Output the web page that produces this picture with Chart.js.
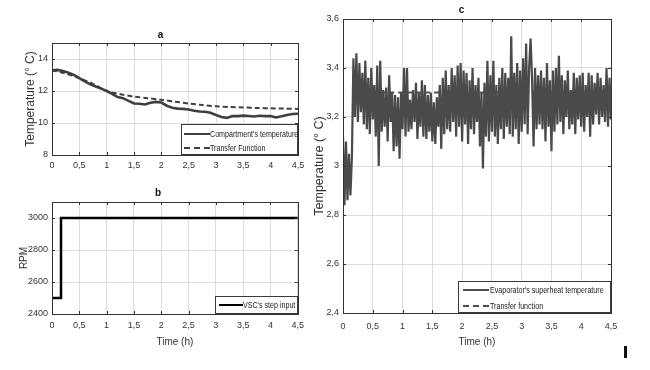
<!DOCTYPE html>
<html>
<head>
<meta charset="utf-8">
<script src="https://cdn.jsdelivr.net/npm/chart.js@4.4.0/dist/chart.umd.min.js"></script>
<style>
  html, body { margin: 0; padding: 0; background: #fff; }
  #page { position: relative; width: 650px; height: 370px; overflow: hidden; font-family: "Liberation Sans", Arial, sans-serif; }
  .box { position: absolute; }
  .legend { position: absolute; box-sizing: border-box; border: 1px solid #3a3a3a; background: #fff; filter: grayscale(1); }
  .row { position: absolute; left: 0; right: 0; height: 12px; font-size: 9px; color: #222; line-height: 12px; white-space: nowrap; }
  .row .ln { position: absolute; top: 5px; height: 0; }
  .row .tx { position: absolute; top: 0; transform: scaleX(0.79); transform-origin: left center; -webkit-font-smoothing: antialiased; }
  #cursor { position: absolute; left: 624px; top: 346px; width: 3px; height: 12px; background: #111; }
</style>
</head>
<body>
<div id="page">
  <div class="box" style="left:0;top:20px;width:310px;height:160px"><canvas id="chartA"></canvas></div>
  <div class="box" style="left:0;top:180px;width:310px;height:190px"><canvas id="chartB"></canvas></div>
  <div class="box" style="left:305px;top:0;width:345px;height:370px"><canvas id="chartC"></canvas></div>

  <div class="legend" style="left:181px;top:124px;width:117px;height:31px">
    <div class="row" style="top:3px"><span class="ln" style="left:2px;width:26px;border-top:2.5px solid #3f3f3f"></span><span class="tx" style="left:28px">Compartment's temperature</span></div>
    <div class="row" style="top:17px"><span class="ln" style="left:2px;width:26px;border-top:2px dashed #3f3f3f"></span><span class="tx" style="left:28px">Transfer Function</span></div>
  </div>
  <div class="legend" style="left:215px;top:296px;width:83px;height:18px">
    <div class="row" style="top:2px"><span class="ln" style="left:3px;width:24px;border-top:2.5px solid #000"></span><span class="tx" style="left:27px">VSC's step input</span></div>
  </div>
  <div class="legend" style="left:458px;top:281px;width:153px;height:32px">
    <div class="row" style="top:2px"><span class="ln" style="left:4px;width:26px;border-top:2px solid #4d4d4d"></span><span class="tx" style="left:31px">Evaporator's superheat temperature</span></div>
    <div class="row" style="top:18px"><span class="ln" style="left:4px;width:26px;border-top:2px dashed #4d4d4d"></span><span class="tx" style="left:31px">Transfer function</span></div>
  </div>
  <div id="cursor"></div>
</div>

<script>
// --- data ---
// a: compartment temperature (°C), one value every 0.1 h
const timeA = [0, 0.1, 0.2, 0.3, 0.4, 0.5, 0.6, 0.7, 0.8, 0.9, 1.0, 1.1, 1.2, 1.3, 1.4, 1.5, 1.6, 1.7, 1.8, 1.9,
  2.0, 2.1, 2.2, 2.3, 2.4, 2.5, 2.6, 2.7, 2.8, 2.9, 3.0, 3.1, 3.2, 3.3, 3.4, 3.5, 3.6, 3.7, 3.8, 3.9,
  4.0, 4.1, 4.2, 4.3, 4.4, 4.5];
const compartmentTemp = [13.30, 13.32, 13.25, 13.15, 13.0, 12.8, 12.6, 12.42, 12.28, 12.15, 12.0, 11.82, 11.62, 11.55, 11.38, 11.22, 11.2, 11.16, 11.26, 11.32,
  11.28, 11.08, 10.95, 10.9, 10.88, 10.84, 10.76, 10.72, 10.7, 10.64, 10.5, 10.38, 10.32, 10.44, 10.43, 10.46, 10.44, 10.41, 10.45, 10.43,
  10.44, 10.35, 10.42, 10.5, 10.56, 10.58];
const timeTfA = [0, 0.25, 0.5, 0.75, 1.0, 1.25, 1.5, 1.75, 2.0, 2.25, 2.5, 2.75, 3.0, 3.25, 3.5, 3.75, 4.0, 4.25, 4.5];
const transferA = [13.3, 13.1, 12.8, 12.45, 12.0, 11.8, 11.65, 11.55, 11.45, 11.33, 11.22, 11.12, 11.04, 11.0, 10.97, 10.94, 10.92, 10.9, 10.88];

// b: VSC step input (RPM)
const timeB = [0, 0.165, 0.165, 4.5];
const rpmB = [2500, 2500, 3000, 3000];

// c: evaporator superheat (°C), evenly sampled over 0..4.5 h
const superheat = [
  3.12, 2.84, 3.10, 2.86, 3.05, 2.88, 3.04, 3.44, 3.20, 3.46,
  3.18, 3.42, 3.22, 3.38, 3.17, 3.43, 3.15, 3.36, 3.13, 3.40,
  3.19, 3.33, 3.12, 3.41, 3.00, 3.43, 3.14, 3.31, 3.16, 3.32,
  3.10, 3.37, 3.18, 3.30, 3.06, 3.29, 3.08, 3.28, 3.03, 3.30,
  3.15, 3.40, 3.12, 3.40, 3.14, 3.27, 3.15, 3.31, 3.18, 3.34,
  3.11, 3.30, 3.16, 3.35, 3.12, 3.33, 3.11, 3.29, 3.14, 3.30,
  3.10, 3.26, 3.09, 3.28, 3.16, 3.33, 3.07, 3.36, 3.13, 3.39,
  3.15, 3.33, 3.14, 3.40, 3.18, 3.37, 3.12, 3.41, 3.16, 3.42,
  3.10, 3.39, 3.17, 3.38, 3.09, 3.35, 3.15, 3.40, 3.13, 3.33,
  3.18, 3.36, 3.08, 3.30, 2.99, 3.34, 3.12, 3.43, 3.10, 3.37,
  3.14, 3.43, 3.12, 3.33, 3.09, 3.36, 3.15, 3.40, 3.11, 3.38,
  3.16, 3.36, 3.13, 3.53, 3.12, 3.38, 3.15, 3.42, 3.09, 3.39,
  3.14, 3.44, 3.17, 3.50, 3.13, 3.40, 3.52, 3.35, 3.08, 3.40,
  3.15, 3.37, 3.17, 3.39, 3.15, 3.36, 3.10, 3.42, 3.16, 3.35,
  3.06, 3.39, 3.14, 3.40, 3.17, 3.45, 3.18, 3.37, 3.13, 3.35,
  3.20, 3.39, 3.15, 3.31, 3.17, 3.38, 3.13, 3.36, 3.19, 3.37,
  3.16, 3.38, 3.14, 3.33, 3.20, 3.38, 3.12, 3.37, 3.17, 3.34,
  3.21, 3.38, 3.17, 3.36, 3.20, 3.33, 3.18, 3.40, 3.16, 3.36,
  3.19
];
const timeTfC = [0.17, 4.5];
const transferC = [3.3, 3.3];

const X_MAX = 4.5;
const xTicks = [0, 0.5, 1, 1.5, 2, 2.5, 3, 3.5, 4, 4.5];

// --- helpers ---
const FONT = '"Liberation Sans", Arial, sans-serif';
const GRID = '#dedede';
const AXIS = '#333';

function comma(v) {
  return String(Number(v.toFixed(2))).replace('.', ',');
}
function pairs(xs, ys) {
  return ys.map((y, i) => ({ x: xs[i], y: y }));
}

// box round the plot + MATLAB style inward ticks
const boxPlugin = {
  id: 'box',
  afterDraw(chart) {
    const { ctx, chartArea: a, scales } = chart;
    ctx.save();
    ctx.strokeStyle = AXIS;
    ctx.lineWidth = 1;
    ctx.beginPath();
    scales.x.ticks.forEach(t => {
      const px = Math.round(scales.x.getPixelForValue(t.value)) + 0.5;
      ctx.moveTo(px, a.bottom); ctx.lineTo(px, a.bottom - 3);
      ctx.moveTo(px, a.top); ctx.lineTo(px, a.top + 3);
    });
    scales.y.ticks.forEach(t => {
      const py = Math.round(scales.y.getPixelForValue(t.value)) + 0.5;
      ctx.moveTo(a.left, py); ctx.lineTo(a.left + 3, py);
      ctx.moveTo(a.right, py); ctx.lineTo(a.right - 3, py);
    });
    ctx.stroke();
    ctx.strokeRect(Math.round(a.left) + 0.5, Math.round(a.top) + 0.5, Math.round(a.right - a.left), Math.round(a.bottom - a.top));
    ctx.restore();
  }
};

function xScale(height, tickPad, title, titlePad) {
  return {
    type: 'linear', min: 0, max: X_MAX,
    afterBuildTicks: s => { s.ticks = xTicks.map(v => ({ value: v })); },
    afterFit: s => { s.height = height; },
    grid: { color: GRID, drawTicks: false },
    border: { color: AXIS },
    ticks: { padding: tickPad, color: '#333', font: { family: FONT, size: 9 }, callback: comma, maxRotation: 0, autoSkip: false },
    title: title ? { display: true, text: title, color: '#333', font: { family: FONT, size: 10 }, padding: { top: 0, bottom: titlePad } } : { display: false }
  };
}

function yScale(min, max, step, width, title, titleSize, titlePad) {
  return {
    min: min, max: max,
    afterFit: s => { s.width = width; },
    grid: { color: GRID, drawTicks: false },
    border: { color: AXIS },
    ticks: { stepSize: step, includeBounds: false, padding: 4, color: '#333', font: { family: FONT, size: 9 }, callback: comma },
    title: { display: true, text: title, color: '#333', font: { family: FONT, size: titleSize }, padding: { top: titlePad, bottom: 0 } }
  };
}

function chartTitle(text, top, bottom) {
  return { display: true, text: text, color: '#111', font: { family: FONT, size: 10, weight: 'bold' }, padding: { top: top, bottom: bottom } };
}

Chart.defaults.animation = false;
Chart.defaults.responsive = true;
Chart.defaults.maintainAspectRatio = false;

// --- a ---
new Chart(document.getElementById('chartA'), {
  type: 'line',
  data: {
    datasets: [
      { label: "Compartment's temperature", data: pairs(timeA, compartmentTemp), borderColor: '#3f3f3f', borderWidth: 2.6, pointRadius: 0, tension: 0 },
      { label: 'Transfer Function', data: pairs(timeTfA, transferA), borderColor: '#3f3f3f', borderWidth: 2, borderDash: [5, 3], pointRadius: 0, tension: 0.3 }
    ]
  },
  options: {
    layout: { padding: { left: 23, right: 12, top: 0, bottom: 0 } },
    plugins: { legend: { display: false }, tooltip: { enabled: false }, title: chartTitle('a', 9, 2) },
    scales: {
      x: xScale(25, 5, null, 0),
      y: yScale(8, 15, 2, 29, 'Temperature (° C)', 12, 0.8)
    }
  },
  plugins: [boxPlugin]
});

// --- b ---
new Chart(document.getElementById('chartB'), {
  type: 'line',
  data: {
    datasets: [
      { label: "VSC's step input", data: pairs(timeB, rpmB), borderColor: '#000', borderWidth: 2.5, pointRadius: 0, tension: 0 }
    ]
  },
  options: {
    layout: { padding: { left: 18, right: 12, top: 0, bottom: 20 } },
    plugins: { legend: { display: false }, tooltip: { enabled: false }, title: chartTitle('b', 7, 3) },
    scales: {
      x: xScale(36, 6, 'Time (h)', 2),
      y: yScale(2400, 3100, 200, 34, 'RPM', 10, 0)
    }
  },
  plugins: [boxPlugin]
});

// --- c ---
const stepC = X_MAX / (superheat.length - 1);
new Chart(document.getElementById('chartC'), {
  type: 'line',
  data: {
    datasets: [
      { label: "Evaporator's superheat temperature", data: superheat.map((v, i) => ({ x: i * stepC, y: v })), borderColor: '#4a4a4a', borderWidth: 2.2, pointRadius: 0, tension: 0 },
      { label: 'Transfer function', data: pairs(timeTfC, transferC), borderColor: '#555', borderWidth: 2, borderDash: [5, 4], pointRadius: 0, tension: 0 }
    ]
  },
  options: {
    layout: { padding: { left: 7, right: 39, top: 0, bottom: 21 } },
    plugins: { legend: { display: false }, tooltip: { enabled: false }, title: chartTitle('c', 4, 3) },
    scales: {
      x: xScale(36, 8, 'Time (h)', 1),
      y: yScale(2.4, 3.6, 0.2, 31, 'Temperature (° C)', 12.5, 0.5)
    }
  },
  plugins: [boxPlugin]
});
</script>
</body>
</html>
